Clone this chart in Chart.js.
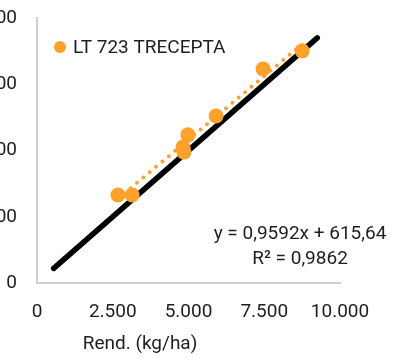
<!DOCTYPE html>
<html lang="pt">
<head>
<meta charset="UTF-8">
<title>Rend. LT 723 TRECEPTA</title>
<script src="https://cdn.jsdelivr.net/npm/chart.js"></script>
<style>
    html, body { margin: 0; padding: 0; background: #fff; overflow: hidden; }
    #box { position: absolute; left: -50px; top: 0; width: 445px; height: 358px; }
</style>
</head>
<body>
<div id="box"><canvas id="grafico" width="445" height="358"></canvas></div>

<script>
    const serieNome = 'LT 723 TRECEPTA';
    const rendX = [2670, 3140, 4820, 4850, 4980, 5910, 7460, 8750];
    const obsY = [3320, 3320, 5130, 4940, 5590, 6300, 8080, 8760];
    const ticksX = ['0', '2.500', '5.000', '7.500', '10.000'];
    const ticksY = ['0', '2.500', '5.000', '7.500', '10.000'];
    const linha11 = [550, 9250];
    const coefA = 0.9592;
    const coefB = 615.64;
    const eqTexto = 'y = 0,9592x + 615,64';
    const r2Texto = 'R² = 0,9862';
    const tituloX = 'Rend. (kg/ha)';

    const laranja = '#FFA12A';
    const corTexto = '#1E1E1E';
    const fonte = 'Roboto';

    let pontos = [];
    for (let i = 0; i < rendX.length; i++) {
        pontos.push({ x: rendX[i], y: obsY[i] });
    }

    // linha de tendencia a partir da equacao
    const xMin = Math.min(...rendX);
    const xMax = Math.max(...rendX);
    const tendencia = [
        { x: xMin, y: coefA * xMin + coefB },
        { x: xMax, y: coefA * xMax + coefB }
    ];

    // legenda dentro da area do grafico, equacao e titulo do eixo x
    const textosExtras = {
        id: 'textosExtras',
        afterDraw(chart) {
            const ctx = chart.ctx;
            const area = chart.chartArea;
            ctx.save();
            ctx.fillStyle = laranja;
            ctx.beginPath();
            ctx.arc(area.left + 23, 47, 6, 0, Math.PI * 2);
            ctx.fill();

            ctx.fillStyle = corTexto;
            ctx.textBaseline = 'middle';
            ctx.textAlign = 'left';
            ctx.font = '19px ' + fonte;
            ctx.fillText(serieNome, area.left + 36, 48);

            ctx.textAlign = 'center';
            ctx.fillText(eqTexto, 350, 234);
            ctx.fillText(r2Texto, 350, 259);
            ctx.fillText(tituloX, 190, 344);
            ctx.restore();
        }
    };

    const config = {
        type: 'scatter',
        data: {
            datasets: [{
                label: serieNome,
                data: pontos,
                backgroundColor: laranja,
                borderWidth: 0,
                pointRadius: 7.5,
                order: 1
            }, {
                label: 'tendencia',
                data: tendencia,
                showLine: true,
                borderColor: laranja,
                borderWidth: 4,
                borderDash: [0, 8.3],
                borderCapStyle: 'round',
                pointRadius: 0,
                order: 2
            }, {
                label: '1:1',
                data: [{ x: linha11[0], y: linha11[0] }, { x: linha11[1], y: linha11[1] }],
                showLine: true,
                borderColor: '#000000',
                borderWidth: 5.5,
                borderCapStyle: 'round',
                pointRadius: 0,
                order: 3
            }]
        },
        options: {
            responsive: false,
            animation: false,
            layout: { padding: { top: 18, right: 55, bottom: 0, left: 0 } },
            plugins: {
                tooltip: { enabled: false },
                legend: { display: false }
            },
            scales: {
                x: {
                    type: 'linear',
                    min: 0,
                    max: 10000,
                    afterFit: (scale) => {
                        scale.height = 75;
                        scale.paddingLeft = 0;
                        scale.paddingRight = 0;
                    },
                    grid: { display: false, drawTicks: false },
                    border: { display: true, color: '#CFCFCF', width: 2 },
                    ticks: {
                        stepSize: 2500,
                        padding: 18,
                        color: corTexto,
                        font: { family: fonte, size: 19 },
                        callback: (v) => ticksX[v / 2500]
                    }
                },
                y: {
                    type: 'linear',
                    min: 0,
                    max: 10000,
                    afterFit: (scale) => {
                        scale.width = 87;
                        scale.paddingTop = 0;
                        scale.paddingBottom = 0;
                    },
                    grid: { display: false, drawTicks: false },
                    border: { display: true, color: '#CFCFCF', width: 2 },
                    ticks: {
                        stepSize: 2500,
                        padding: 20,
                        color: corTexto,
                        font: { family: fonte, size: 19 },
                        callback: (v) => ticksY[v / 2500]
                    }
                }
            }
        },
        plugins: [textosExtras]
    };

    new Chart(document.getElementById('grafico'), config);
</script>
</body>
</html>
